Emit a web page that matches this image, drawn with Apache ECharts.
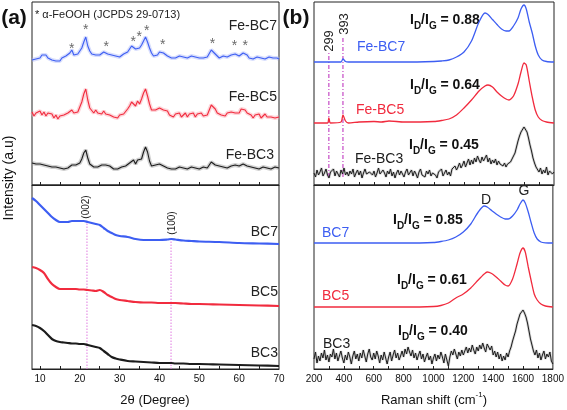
<!DOCTYPE html>
<html><head><meta charset="utf-8">
<script src="https://cdn.jsdelivr.net/npm/echarts@6/dist/echarts.min.js"></script>
<style>html,body{margin:0;padding:0;background:#fff}#c{width:567px;height:410px}</style>
</head><body><div id="c"></div>
<script>
// ---------- DATA (arbitrary intensity units) ----------
// (a) XRD, top: Fe-BC samples, 2theta from 8 to 70 sampled every 0.5 deg
const xrdThetaStart = 8, xrdThetaStep = 0.5;
const feBC7Xrd = [125,127,126,128,127,130,128,130,127,128,
 125,126,124,126,124,127,126,129,128,132,
 135,130,132,131,134,137,143,148,139,134,
 131,132,130,132,130,132,133,135,131,132,
 130,131,129,130,128,130,131,130,133,135,
 139,140,136,138,137,140,144,148,143,137,
 132,129,131,130,133,134,132,131,129,130,
 127,129,127,128,129,127,128,129,127,128,
 129,127,128,129,127,128,127,129,128,130,
 135,134,131,129,127,128,129,127,128,129,
 130,132,131,129,129,130,132,133,130,127,
 128,126,127,128,126,127,128,126,127,128,
 126,127,126,127,126];
const feBC5Xrd = [73,69,72,70,74,70,73,69,72,70,
 71,67,70,66,69,67,70,68,72,71,
 75,72,74,73,78,83,91,96,85,77,
 76,72,75,72,74,71,74,71,73,70,
 71,68,70,67,70,68,71,72,76,79,
 83,81,79,84,81,86,92,96,89,81,
 75,73,75,73,77,78,75,73,74,70,
 71,68,71,69,72,68,70,72,68,71,
 69,72,68,71,70,72,69,71,70,75,
 80,78,76,72,73,70,72,69,72,70,
 73,74,72,74,72,76,77,75,72,70,
 70,67,70,68,71,67,69,71,68,70,
 68,70,67,69,68];
const feBC3Xrd = [22,20,21,19,21,19,20,21,19,20,
 18,16,18,16,17,18,16,18,17,19,
 20,18,20,19,22,26,32,35,27,21,
 20,18,20,18,19,20,18,20,18,19,
 18,16,18,16,17,18,17,19,20,22,
 24,25,21,25,23,26,33,38,33,24,
 19,17,20,18,21,22,19,20,17,18,
 16,18,16,17,18,16,17,18,16,17,
 18,16,17,18,16,17,18,16,17,19,
 23,22,20,18,19,17,18,19,17,19,
 19,21,20,18,19,20,21,22,19,17,
 18,16,17,18,16,17,18,16,17,18,
 16,17,18,16,17];
// alpha-FeOOH reflections marked with *
const starTheta  = [18.0, 21.5, 26.6, 33.4, 34.9, 36.8, 40.8, 53.3, 58.8, 61.5];
const starHeight = [136, 155, 138, 143, 148, 154, 140, 141, 139, 139];

// (a) XRD, bottom: BC samples
const xrdSmoothTheta = [8,9,10,11,12,13,14,15,16,17,18,19,20,21,22,23,24,25,26,27,28,29,30,32,34,36,38,40,42,43,44,46,48,50,55,60,65,70];
const bc7Xrd = [171,168,164,160,156,152,149,147,147,147,148,148,148,148,147,146,145,144,141,138,136,134,133,132,130,129,129,129,129.5,130,129.5,128.5,128,127.5,127,126,125.5,125];
const bc5Xrd = [102,101,99,96,90,85,82,80,80,80,80,80,79.5,79.5,79,78.5,78,79,77,74,72,70,69,68,67,66.5,66.5,66,66,66,66,65.5,65,65,64.5,64,63.5,63];
const bc3Xrd = [44,43,41,38,34,30,28,27,26.5,26,25.5,25.5,25,25,24,23,22,21,18,15,12,10.5,9.5,8,7.5,7,6.5,6,6,6,5.5,5.5,5,5,4.5,4,3.5,3];
const refTheta = [21.8, 42.9];      // (002), (100)
const refTop = [147, 132];

// (b) Raman
const ramanX = [200,290,299,310,380,393,410,430,500,600,650,700,800,1000,1050,1100,1150,1200,1250,1300,1340,1360,1390,1420,1450,1480,1500,1530,1560,1580,1600,1615,1635,1655,1675,1695,1720,1750,1800];
const feBC7Raman = [123,123,123,123,123,126,123.5,123,123,123,123,123,123,123.5,124,125,128,133,144,163,172,170.5,165.5,160.5,156,154,154,159,167,176,180,176,163,152,139,130,125,123.5,123];
const feBC5Raman = [62,62,67,62,63,70,64,62,63,63.5,63,64,63,63.5,64.5,66,70,77,85,94,99,100,98,93,89,86,85,89,101,113,122,120,104,88,75,68,64.5,63,62];
const bc7Raman = [126,126,126,126,126,126,126,126,126,126,126,126,126,126.5,127.5,129,132,137,145,157,163,162,158.5,155,152,150,150,153,159,165,169,166,157,146,136,130,127,126.2,126];
const bc5Raman = [62,62,62,62,62,62,62,62,62,62,62,62,62,62.5,63.5,66,71,75,81,89,95,97,95.5,92,88,84,83,90,105,116,121,117,102,88,75,69,65,63,62];
// noisy spectra sampled every 10 cm-1 from 200 to 1800
const ramanNoisyStart = 200, ramanNoisyStep = 10;
const feBC3Raman = [12,8,15,10,13,17,9,12,16,10,
 7,13,11,16,9,14,12,8,15,11,
 17,10,13,9,14,11,16,8,12,15,
 10,14,7,12,16,11,9,13,15,10,
 14,8,12,17,11,9,15,12,8,14,
 11,16,9,13,7,12,15,10,14,11,
 8,13,16,10,12,15,9,14,11,7,
 13,16,10,12,8,14,11,15,9,12,
 14,10,7,13,11,16,9,12,15,10,
 13,9,16,14,19,15,18,22,17,20,
 24,18,22,26,20,25,21,27,23,29,
 25,22,28,24,26,30,23,27,21,25,
 22,26,20,24,21,23,19,22,18,21,
 20,23,25,29,32,38,44,49,53,55,
 58,56,53,47,40,34,27,22,18,16,
 13,17,11,15,12,18,10,14,16,11,
 13];
const bc3Raman = [10,17,6,13,8,16,11,19,9,14,
 7,15,12,20,10,16,8,13,18,11,
 6,14,9,17,12,5,13,18,10,15,
 8,16,11,19,13,7,15,20,12,9,
 16,10,18,13,6,14,9,17,11,5,
 12,17,8,14,19,11,16,9,13,18,
 12,20,15,22,17,13,19,11,16,9,
 14,18,10,15,7,12,16,9,13,5,
 11,15,8,14,10,17,12,6,15,9,
 3,12,18,14,20,15,10,17,13,19,
 14,18,22,16,21,17,24,19,15,22,
 18,24,20,26,21,17,25,22,19,23,
 14,18,12,17,10,15,8,13,9,16,
 12,18,22,28,33,38,45,50,55,57,
 59,56,52,46,38,30,24,18,14,19,
 11,16,9,14,18,10,15,12,17,8,
 5];
const ramanRefX = [299, 393];
const ramanRefTop = [133, 148];

const xrdTicks = [10,15,20,25,30,35,40,45,50,55,60,65];
const xrdLabels = [10,20,30,40,50,60,70];
const ramanTicks = [300,400,500,600,700,800,900,1000,1100,1200,1300,1400,1500,1600,1700];
const ramanLabels = [200,400,600,800,1000,1200,1400,1600,1800];

// ---------- CHART ----------
const FONT = "'Liberation Sans', Arial, sans-serif";
const BLUE = '#3d5ef2', RED = '#f12b3e', BLACK = '#1c1c1c';
const BLUE_H = '#a8b6fb', RED_H = '#fba2ab', BLACK_H = '#9a9a9a';

const uni = (arr, start, step) => arr.map((v, i) => [start + i * step, v]);
const pairs = (xs, ys) => xs.map((x, i) => [x, ys[i]]);

function line(ax, data, color, width, extra) {
  return Object.assign({
    type: 'line', xAxisIndex: ax, yAxisIndex: ax, data: data, symbol: 'none',
    lineStyle: { color: color, width: width }, silent: true, animation: false
  }, extra || {});
}
function halo(ax, data, color, width, op) {
  return line(ax, data, color, width, { lineStyle: { color: color, width: width, opacity: op }, z: 1 });
}

const series = [];
// (a) top
[[feBC7Xrd, BLUE, BLUE_H], [feBC5Xrd, RED, RED_H], [feBC3Xrd, BLACK, BLACK_H]].forEach(([d, c, h]) => {
  const dd = uni(d, xrdThetaStart, xrdThetaStep);
  series.push(halo(0, dd, h, 4, 0.45));
  series.push(line(0, dd, c, 1.1, { z: 2 }));
});
series.push({
  type: 'scatter', xAxisIndex: 0, yAxisIndex: 0, data: pairs(starTheta, starHeight),
  symbolSize: 0.1, itemStyle: { color: 'rgba(0,0,0,0)' }, silent: true, animation: false,
  label: { show: true, position: 'inside', formatter: '*', color: '#444', fontSize: 14, fontFamily: FONT }
});
// (a) bottom
[[bc7Xrd, BLUE], [bc5Xrd, RED], [bc3Xrd, BLACK]].forEach(([d, c]) => {
  series.push(line(1, pairs(xrdSmoothTheta, d), c, 2.2, { smooth: 0.3, z: 2 }));
});
refTheta.forEach((t, i) => {
  series.push(line(1, [[t, 0], [t, refTop[i]]], '#e07be0', 1, { lineStyle: { color: '#e07be0', width: 1, type: [1.5, 1.5] }, z: 1 }));
});
// (b) top
series.push(line(2, pairs(ramanX, feBC7Raman), BLUE, 1.3, { smooth: 0.25, z: 2 }));
series.push(line(2, pairs(ramanX, feBC5Raman), RED, 1.3, { smooth: 0.25, z: 2 }));
{
  const dd = uni(feBC3Raman, ramanNoisyStart, ramanNoisyStep);
  series.push(halo(2, dd, BLACK_H, 2.6, 0.45));
  series.push(line(2, dd, BLACK, 1, { z: 2 }));
}
ramanRefX.forEach((x, i) => {
  series.push(line(2, [[x, 8], [x, ramanRefTop[i]]], '#c548c5', 1, { lineStyle: { color: '#c548c5', width: 1.2, type: [4, 2, 1, 2] }, z: 1 }));
});
// (b) bottom
series.push(line(3, pairs(ramanX, bc7Raman), BLUE, 1.3, { smooth: 0.25, z: 2 }));
series.push(line(3, pairs(ramanX, bc5Raman), RED, 1.3, { smooth: 0.25, z: 2 }));
{
  const dd = uni(bc3Raman, ramanNoisyStart, ramanNoisyStep);
  series.push(halo(3, dd, BLACK_H, 2.6, 0.45));
  series.push(line(3, dd, BLACK, 1, { z: 2 }));
}

function xAx(gi, min, max, ticks, labels, showLabels) {
  return {
    type: 'value', gridIndex: gi, min: min, max: max,
    axisLine: { show: true, lineStyle: { color: '#222', width: 1 } },
    axisTick: { show: true, inside: true, length: 3, customValues: ticks, lineStyle: { color: '#222' } },
    axisLabel: { show: showLabels, customValues: labels, formatter: v => String(v), color: '#111', fontSize: 10, fontFamily: FONT, margin: 5 },
    splitLine: { show: false }
  };
}
function yAx(gi, max) {
  return { type: 'value', gridIndex: gi, min: 0, max: max, show: false, splitLine: { show: false } };
}
const gridBase = { show: true, borderColor: '#222', borderWidth: 1, containLabel: false };

function txt(x, y, text, opts) {
  return {
    type: 'text', x: x, y: y, rotation: (opts && opts.rot) || 0, silent: true,
    style: Object.assign({
      text: text, fontFamily: FONT, fontSize: 14, fill: '#222',
      align: 'center', verticalAlign: 'middle'
    }, (opts && opts.style) || {})
  };
}
function ratio(x, y, val) {
  return txt(x, y, '{a|I}{b|D}{a|/I}{b|G}{a| = ' + val + '}', {
    style: {
      align: 'left',
      rich: {
        a: { fontFamily: FONT, fontSize: 14, fontWeight: 'bold', fill: '#111', lineHeight: 18, verticalAlign: 'top' },
        b: { fontFamily: FONT, fontSize: 10, fontWeight: 'bold', fill: '#111', lineHeight: 10, verticalAlign: 'bottom' }
      }
    }
  });
}

const graphics = [
  txt(14, 18, '(a)', { style: { fontSize: 21, fontWeight: 'bold', fill: '#111' } }),
  txt(296, 18, '(b)', { style: { fontSize: 21, fontWeight: 'bold', fill: '#111' } }),
  txt(35, 15, '* α-FeOOH (JCPDS 29-0713)', { style: { fontSize: 11, align: 'left', fill: '#222' } }),
  txt(9, 178, 'Intensity (a.u)', { rot: Math.PI / 2, style: { fontSize: 14, fill: '#111' } }),
  txt(277, 26, 'Fe-BC7', { style: { align: 'right' } }),
  txt(277, 97, 'Fe-BC5', { style: { align: 'right' } }),
  txt(274, 155, 'Fe-BC3', { style: { align: 'right' } }),
  txt(278, 232, 'BC7', { style: { align: 'right' } }),
  txt(278, 292, 'BC5', { style: { align: 'right' } }),
  txt(278, 353, 'BC3', { style: { align: 'right' } }),
  txt(86, 207, '(002)', { rot: Math.PI / 2, style: { fontSize: 10 } }),
  txt(172, 223, '(100)', { rot: Math.PI / 2, style: { fontSize: 10 } }),
  txt(155, 400, '2θ (Degree)', { style: { fontSize: 13, fill: '#111' } }),
  txt(434, 400, 'Raman shift (cm{s|-1})', { style: { fontSize: 13, fill: '#111',
    rich: { s: { fontFamily: FONT, fontSize: 8, fill: '#111', verticalAlign: 'top', lineHeight: 18 } } } }),
  txt(329, 41, '299', { rot: Math.PI / 2, style: { fontSize: 13 } }),
  txt(344, 24, '393', { rot: Math.PI / 2, style: { fontSize: 13 } }),
  txt(357, 47, 'Fe-BC7', { style: { align: 'left', fill: BLUE } }),
  txt(356, 110, 'Fe-BC5', { style: { align: 'left', fill: RED } }),
  txt(355, 159, 'Fe-BC3', { style: { align: 'left', fill: BLACK } }),
  txt(322, 233, 'BC7', { style: { align: 'left', fill: BLUE } }),
  txt(322, 296, 'BC5', { style: { align: 'left', fill: RED } }),
  txt(323, 344, 'BC3', { style: { align: 'left', fill: BLACK } }),
  txt(486, 200, 'D', { style: { fontSize: 14 } }),
  txt(524, 191, 'G', { style: { fontSize: 14 } }),
  ratio(410, 22, '0.88'),
  ratio(410, 87, '0.64'),
  ratio(409, 147, '0.45'),
  ratio(393, 222, '0.85'),
  ratio(397, 282, '0.61'),
  ratio(398, 333, '0.40')
];

const chart = echarts.init(document.getElementById('c'), null, { renderer: 'canvas' });
chart.setOption({
  animation: false,
  backgroundColor: '#fff',
  grid: [
    Object.assign({ left: 32, top: 2, width: 247, height: 183 }, gridBase),
    Object.assign({ left: 32, top: 185, width: 247, height: 184 }, gridBase),
    Object.assign({ left: 314, top: 2, width: 240, height: 183 }, gridBase),
    Object.assign({ left: 314, top: 185, width: 240, height: 184 }, gridBase)
  ],
  xAxis: [
    xAx(0, 8, 70, xrdTicks, xrdLabels, false),
    xAx(1, 8, 70, xrdTicks, xrdLabels, true),
    xAx(2, 200, 1800, ramanTicks, ramanLabels, false),
    xAx(3, 200, 1800, ramanTicks, ramanLabels, true)
  ],
  yAxis: [yAx(0, 183), yAx(1, 184), yAx(2, 183), yAx(3, 184)],
  series: series,
  graphic: { elements: graphics }
});
</script>
</body></html>
